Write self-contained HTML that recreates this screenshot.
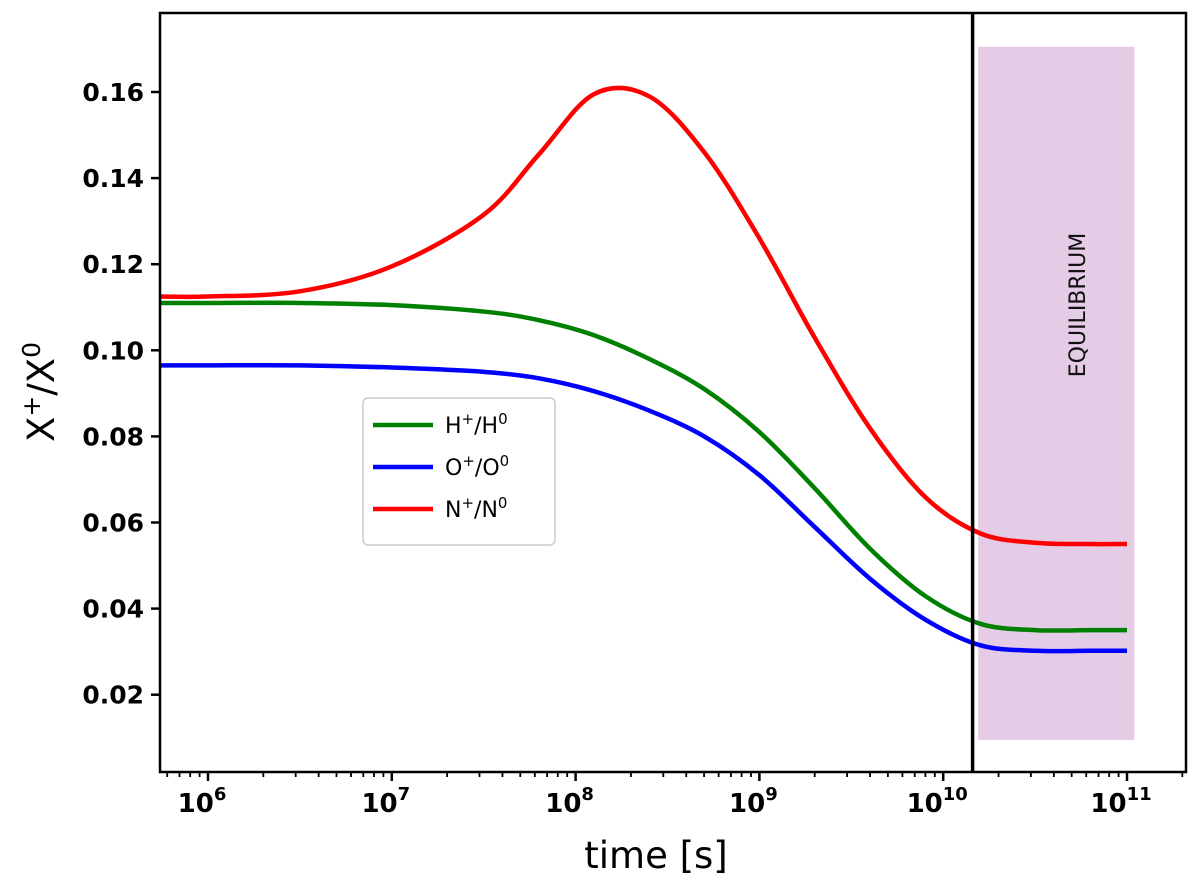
<!DOCTYPE html>
<html><head><meta charset="utf-8"><style>
body{margin:0;background:#fff}
svg{display:block;font-family:"DejaVu Sans","Liberation Sans",sans-serif}
</style></head><body>
<svg id="chart" width="1200" height="887">
<g id="shade"></g>
<g id="lines"></g>
<g id="axes"></g>
</svg>
<script>
const logT = [5.74, 6, 6.5, 7, 7.5, 7.8, 8.1, 8.4, 8.7, 9, 9.3, 9.6, 9.9, 10.2, 10.5, 10.8, 11];
const redVals = [0.1125, 0.1125, 0.1137, 0.1195, 0.1315, 0.1455, 0.1595, 0.159, 0.146, 0.126, 0.103, 0.082, 0.066, 0.0575, 0.0553, 0.055, 0.055];
const greenVals = [0.111, 0.111, 0.111, 0.1105, 0.109, 0.107, 0.1035, 0.098, 0.091, 0.081, 0.068, 0.054, 0.043, 0.0365, 0.035, 0.035, 0.035];
const blueVals = [0.0965, 0.0965, 0.0965, 0.096, 0.095, 0.0935, 0.0905, 0.086, 0.080, 0.071, 0.059, 0.047, 0.0375, 0.0315, 0.0302, 0.0302, 0.0302];
const yTicks = [0.02, 0.04, 0.06, 0.08, 0.10, 0.12, 0.14, 0.16];
const xDecades = [6, 7, 8, 9, 10, 11];
const eqLine = 10.16;
const eqRange = [10.19, 11.04];
const eqY = [0.0095, 0.1705];

const L=160,R=1186,T=13,B=772;
const xs = v => 208 + (v-6)*183.8;
const ys = v => 92 + (0.16-v)/0.02*86.1;
const NS='http://www.w3.org/2000/svg';
function mk(parent,tag,attrs){const e=document.createElementNS(NS,tag);for(const k in attrs)e.setAttribute(k,attrs[k]);document.getElementById(parent).appendChild(e);return e;}

let r=mk('shade','rect',{x:xs(eqRange[0]),y:ys(eqY[1]),width:xs(eqRange[1])-xs(eqRange[0]),height:ys(eqY[0])-ys(eqY[1]),fill:'#e4cce6'});


let et=mk('shade','text',{x:0,y:0,'font-size':22,'fill':'#111',transform:`translate(${(xs(eqRange[0])+xs(eqRange[1]))/2+29},305) rotate(-90)`,'text-anchor':'middle'});
et.textContent='EQUILIBRIUM';



function pathFor(vals){
  const p=logT.map((t,i)=>[xs(t),ys(vals[i])]);
  let d=`M${p[0][0]},${p[0][1]}`;
  for(let i=0;i<p.length-1;i++){
    const p0=p[Math.max(0,i-1)],p1=p[i],p2=p[i+1],p3=p[Math.min(p.length-1,i+2)];
    const c1=[p1[0]+(p2[0]-p0[0])/6,p1[1]+(p2[1]-p0[1])/6];
    const c2=[p2[0]-(p3[0]-p1[0])/6,p2[1]-(p3[1]-p1[1])/6];
    d+=`C${c1[0]},${c1[1]} ${c2[0]},${c2[1]} ${p2[0]},${p2[1]}`;
  }
  return d;
}
let pg=mk('lines','path',{d:pathFor(greenVals),stroke:'#008000',fill:'none','stroke-width':4.5});


let pb=mk('lines','path',{d:pathFor(blueVals),stroke:'#0000ff',fill:'none','stroke-width':4.5});


let pr=mk('lines','path',{d:pathFor(redVals),stroke:'#ff0000',fill:'none','stroke-width':4.5});



let vl=mk('lines','line',{x1:xs(eqLine),x2:xs(eqLine),y1:T,y2:B,stroke:'#000','stroke-width':3.5});



let fr=mk('axes','rect',{x:L,y:T,width:R-L,height:B-T,fill:'none',stroke:'#000','stroke-width':2.5});


yTicks.forEach(v=>{
  const y=ys(v);
  let tl=mk('axes','line',{x1:L-9,x2:L,y1:y,y2:y,stroke:'#000','stroke-width':2.5});
  
  
  let tx=mk('axes','text',{x:L-16,y:y+9,'font-size':25,'font-weight':'bold','text-anchor':'end'});
  tx.textContent=v.toFixed(2);
  
  
});
for(let d=5;d<=11;d++){
  for(let m=1;m<10;m++){
    const lv=d+Math.log10(m);const x=xs(lv);
    if(x<L||x>R)continue;
    let tl=mk('axes','line',{x1:x,x2:x,y1:B,y2:B+(m===1?9:5),stroke:'#000','stroke-width':m===1?2.5:1.8});
    
    
  }
}
xDecades.forEach(d=>{
  let tx=mk('axes','text',{x:xs(d)-6,y:812,'font-size':26,'font-weight':'bold','text-anchor':'middle'});
  tx.innerHTML=`10<tspan dy="-12" font-size="18">${d}</tspan>`;
  
  
});
let xl=mk('axes','text',{x:656,y:868,'font-size':37,'text-anchor':'middle'});
xl.textContent='time [s]';


let yl=mk('axes','text',{x:0,y:0,'font-size':37,'text-anchor':'middle',transform:'translate(54,392) rotate(-90)'});
yl.innerHTML='X<tspan dy="-14" font-size="25">+</tspan><tspan dy="14">/X</tspan><tspan dy="-14" font-size="25">0</tspan>';



let lg=mk('axes','rect',{x:363,y:398,width:192,height:147,rx:5,fill:'#fff',stroke:'#ccc','stroke-width':1.5});


[['#008000','H','legend-entry-h'],['#0000ff','O','legend-entry-o'],['#ff0000','N','legend-entry-n']].forEach((e,i)=>{
  const y=425+i*42;
  let ln=mk('axes','line',{x1:373,x2:433,y1:y,y2:y,stroke:e[0],'stroke-width':4.5});
  
  
  let t=mk('axes','text',{x:445,y:y+8,'font-size':22});
  t.innerHTML=`${e[1]}<tspan dy="-9" font-size="15">+</tspan><tspan dy="9">/${e[1]}</tspan><tspan dy="-9" font-size="15">0</tspan>`;
  
  
});
</script>
</body></html>
